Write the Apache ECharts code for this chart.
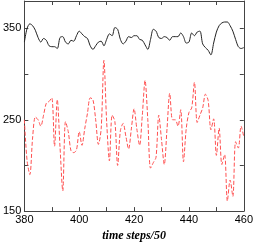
<!DOCTYPE html>
<html><head><meta charset="utf-8">
<script src="https://cdn.jsdelivr.net/npm/echarts@6/dist/echarts.min.js"></script>
<style>html,body{margin:0;padding:0;background:#fff}#c{width:256px;height:247px}</style>
</head><body><div id="c"></div>
<script>
var steps = [];
for (var t = 380; t <= 460; t++) steps.push(t);
var blackSeries = [335,350,355,353,348,340,335,339,337,331,330,330,328,340,341,335,333,337,336,342,
347,344,341,339,331,327,331,335,336,331,338,344,342,351,349,338,333,336,341,340,
342,342,338,337,332,327,338,349,347,340,339,341,340,337,341,341,341,345,341,334,
335,345,342,346,347,333,329,326,321,334,346,353,356,357,357,353,347,338,330,328,329];
var redSeries = [250,205,190,230,253,250,243,255,268,270,274,221,272,220,172,248,237,216,214,217,
237,222,240,257,274,272,250,223,240,315,248,205,255,248,200,238,246,232,218,240,
262,240,222,255,293,250,197,203,209,255,228,201,240,279,250,250,243,261,204,240,
258,263,291,247,255,263,278,271,239,251,211,241,201,212,161,184,166,226,219,243,231];
var xLabels = [380,400,420,440,460];
var yLabels = [150,250,350];

function pairs(vals){ return steps.map(function(s,i){ return [s, vals[i]]; }); }
var axisLine = {show:true, lineStyle:{color:'#444', width:1}};
var tick = {show:true, inside:true, length:4, lineStyle:{color:'#444'}};
var font = {fontFamily:'Liberation Sans', fontSize:11, color:'#000'};
var chart = echarts.init(document.getElementById('c'), null, {renderer:'canvas'});
chart.setOption({
  animation:false,
  grid:{left:19, right:7, top:1, bottom:23, containLabel:false},
  xAxis:[
    {type:'value', min:380, max:460, interval:10, axisLine:axisLine, axisTick:tick, splitLine:{show:false},
     axisLabel:Object.assign({margin:3, formatter:function(v){return xLabels.indexOf(v)>=0?String(v):'';}}, font),
     name:'time steps/50', nameLocation:'middle', nameGap:16,
     nameTextStyle:{fontFamily:'Liberation Serif', fontStyle:'italic', fontWeight:'bold', fontSize:12, color:'#000'}},
    {type:'value', position:'top', min:380, max:460, interval:10, axisLine:axisLine, axisTick:tick, axisLabel:{show:false}, splitLine:{show:false}}
  ],
  yAxis:[
    {type:'value', min:150, max:380, interval:50, axisLine:axisLine, axisTick:tick, splitLine:{show:false},
     axisLabel:Object.assign({margin:3, formatter:function(v){return yLabels.indexOf(v)>=0?String(v):'';}}, font)},
    {type:'value', position:'right', min:150, max:380, interval:50, axisLine:axisLine, axisTick:tick, axisLabel:{show:false}, splitLine:{show:false}}
  ],
  series:[
    {type:'line', data:pairs(blackSeries), showSymbol:false, smooth:0.3, lineStyle:{color:'#222', width:1}},
    {type:'line', data:pairs(redSeries), showSymbol:false, smooth:0.3, lineStyle:{color:'#ff5050', width:1, type:[4,2]}}
  ]
});
</script></body></html>
